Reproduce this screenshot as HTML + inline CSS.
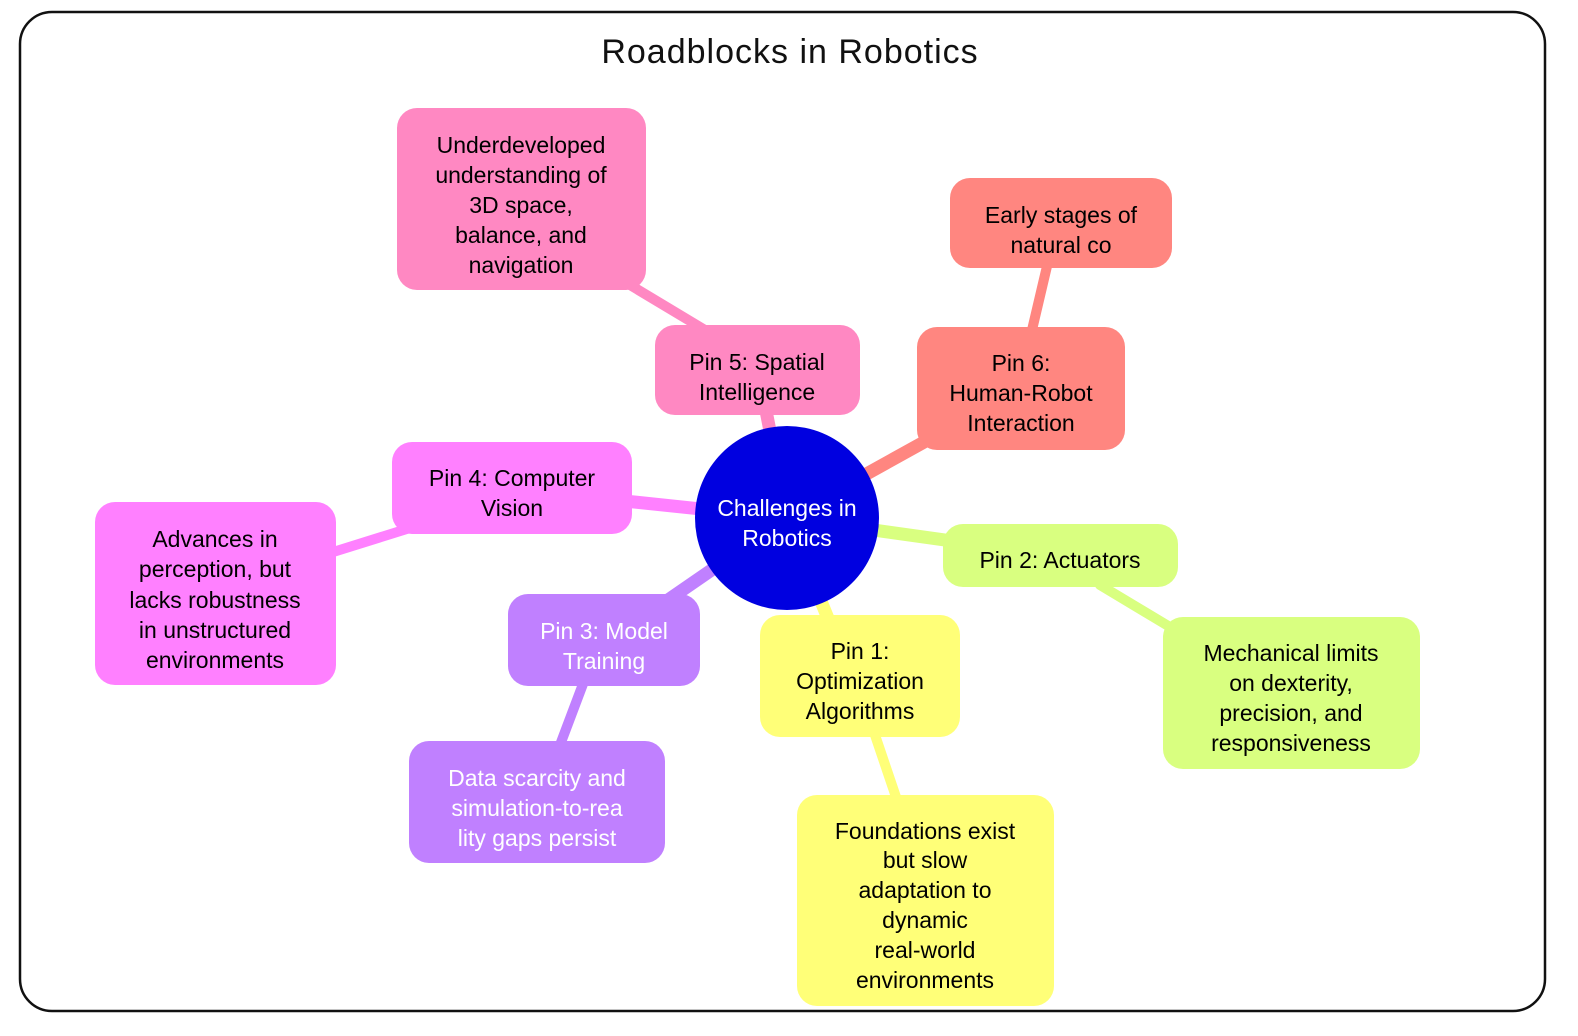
<!DOCTYPE html>
<html><head><meta charset="utf-8"><style>
html,body{margin:0;padding:0;background:#fff;}
svg{display:block;}
text{font-family:"Liberation Sans",sans-serif;font-size:23px;text-anchor:middle;}
</style></head><body>
<svg width="1578" height="1036" viewBox="0 0 1578 1036" xmlns="http://www.w3.org/2000/svg">
<rect x="20" y="12" width="1525" height="999" rx="32" fill="#fff" stroke="#111" stroke-width="2.5"/>
<text x="790" y="63" style="font-family:'Liberation Sans',sans-serif;font-size:34px;letter-spacing:1px" fill="#111">Roadblocks in Robotics</text>
<g stroke-linecap="round">
<line x1="787" y1="518" x2="760" y2="380" stroke="#ff88c2" stroke-width="13"/>
<line x1="705" y1="330" x2="630" y2="285" stroke="#ff88c2" stroke-width="10"/>
<line x1="787" y1="518" x2="1000" y2="400" stroke="#ff8680" stroke-width="13"/>
<line x1="1032" y1="330" x2="1048" y2="262" stroke="#ff8680" stroke-width="10"/>
<line x1="787" y1="518" x2="520" y2="490" stroke="#ff80ff" stroke-width="13"/>
<line x1="410" y1="528" x2="330" y2="553" stroke="#ff80ff" stroke-width="10"/>
<line x1="787" y1="518" x2="1060" y2="556" stroke="#d9ff80" stroke-width="13"/>
<line x1="1100" y1="585" x2="1175" y2="630" stroke="#d9ff80" stroke-width="10"/>
<line x1="787" y1="518" x2="845" y2="660" stroke="#ffff78" stroke-width="13"/>
<line x1="875" y1="735" x2="897" y2="800" stroke="#ffff78" stroke-width="10"/>
<line x1="787" y1="518" x2="610" y2="640" stroke="#c080ff" stroke-width="13"/>
<line x1="583" y1="684" x2="560" y2="745" stroke="#c080ff" stroke-width="10"/>
</g>
<circle cx="787" cy="518" r="92" fill="#0000e0"/>
<text x="787" y="516" fill="#fff">Challenges in</text>
<text x="787" y="546" fill="#fff">Robotics</text>

<rect x="655" y="325" width="205" height="90" rx="20" fill="#ff88c2"/>
<text x="757" y="370">Pin 5: Spatial</text><text x="757" y="400">Intelligence</text>
<rect x="397" y="108" width="249" height="182" rx="20" fill="#ff88c2"/>
<text x="521" y="153">Underdeveloped</text><text x="521" y="183">understanding of</text><text x="521" y="213">3D space,</text><text x="521" y="243">balance, and</text><text x="521" y="273">navigation</text>

<rect x="917" y="327" width="208" height="123" rx="20" fill="#ff8680"/>
<text x="1021" y="371">Pin 6:</text><text x="1021" y="401">Human-Robot</text><text x="1021" y="431">Interaction</text>
<rect x="950" y="178" width="222" height="90" rx="20" fill="#ff8680"/>
<text x="1061" y="223">Early stages of</text><text x="1061" y="253">natural co</text>

<rect x="392" y="442" width="240" height="92" rx="20" fill="#ff80ff"/>
<text x="512" y="486">Pin 4: Computer</text><text x="512" y="516">Vision</text>
<rect x="95" y="502" width="241" height="183" rx="20" fill="#ff80ff"/>
<text x="215" y="547">Advances in</text><text x="215" y="577">perception, but</text><text x="215" y="608">lacks robustness</text><text x="215" y="638">in unstructured</text><text x="215" y="668">environments</text>

<rect x="943" y="524" width="235" height="63" rx="20" fill="#d9ff80"/>
<text x="1060" y="568">Pin 2: Actuators</text>
<rect x="1163" y="617" width="257" height="152" rx="20" fill="#d9ff80"/>
<text x="1291" y="661">Mechanical limits</text><text x="1291" y="691">on dexterity,</text><text x="1291" y="721">precision, and</text><text x="1291" y="751">responsiveness</text>

<rect x="760" y="615" width="200" height="122" rx="20" fill="#ffff78"/>
<text x="860" y="659">Pin 1:</text><text x="860" y="689">Optimization</text><text x="860" y="719">Algorithms</text>
<rect x="797" y="795" width="257" height="211" rx="20" fill="#ffff78"/>
<text x="925" y="839">Foundations exist</text><text x="925" y="868">but slow</text><text x="925" y="898">adaptation to</text><text x="925" y="928">dynamic</text><text x="925" y="958">real-world</text><text x="925" y="988">environments</text>

<rect x="508" y="594" width="192" height="92" rx="20" fill="#c080ff"/>
<text x="604" y="639" fill="#fff">Pin 3: Model</text><text x="604" y="669" fill="#fff">Training</text>
<rect x="409" y="741" width="256" height="122" rx="20" fill="#c080ff"/>
<text x="537" y="786" fill="#fff">Data scarcity and</text><text x="537" y="816" fill="#fff">simulation-to-rea</text><text x="537" y="846" fill="#fff">lity gaps persist</text>
</svg>
</body></html>
